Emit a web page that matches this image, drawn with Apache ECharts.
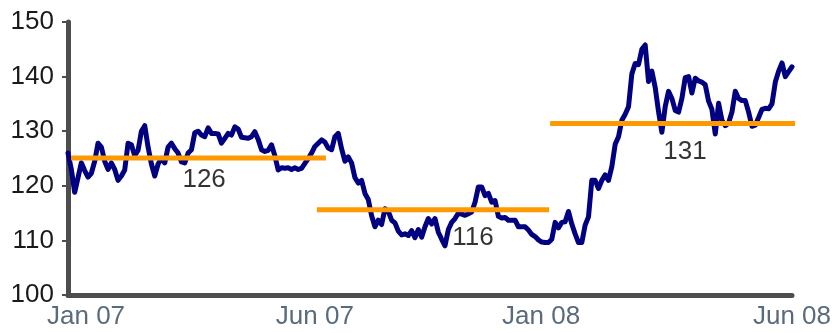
<!DOCTYPE html>
<html>
<head>
<meta charset="utf-8">
<script src="https://cdn.jsdelivr.net/npm/echarts@6/dist/echarts.min.js"></script>
<style>
html,body{margin:0;padding:0;background:#fff;}
#chart{width:836px;height:333px;}
</style>
</head>
<body>
<div id="chart"></div>
<script>
// Daily index level, Jan 07 - Jun 08 (one value per sample)
const indexValues = [
126.0,123.0,118.8,121.5,124.2,122.8,121.6,122.3,124.5,127.8,
127.1,124.5,123.0,124.2,123.0,121.0,121.8,122.9,127.8,127.5,
125.5,126.5,130.0,131.0,127.1,124.0,121.8,124.0,125.0,124.2,
127.1,127.8,126.8,126.0,124.4,124.2,126.0,126.6,129.7,130.0,
129.3,129.0,130.6,129.6,129.6,129.5,127.8,128.7,129.6,129.3,
130.8,130.4,128.9,128.8,128.7,129.0,129.9,128.5,126.6,126.3,
126.5,127.5,125.5,122.9,123.3,123.2,123.3,123.0,123.3,123.0,
123.2,124.1,125.0,126.0,127.2,127.8,128.4,128.0,126.9,126.6,
129.0,129.6,126.8,124.5,125.3,124.2,121.5,120.5,121.0,118.6,
117.5,114.5,112.5,113.7,112.9,115.8,115.3,113.7,113.2,111.7,
111.0,111.2,110.9,111.8,110.5,112.0,110.6,112.5,114.0,113.0,
114.0,111.5,110.2,109.0,112.0,113.3,114.0,115.0,114.8,114.6,
114.9,115.2,117.0,119.8,119.8,118.2,118.6,117.0,117.3,114.4,
114.1,114.2,113.7,113.7,113.7,112.5,112.5,112.5,111.9,111.1,
110.7,110.1,109.7,109.6,109.6,110.2,113.3,112.3,113.3,113.4,
115.3,113.0,111.2,109.6,109.6,112.8,114.3,121.0,121.0,119.5,
121.0,122.0,121.0,123.5,127.6,129.0,132.0,133.1,134.5,140.5,
142.4,142.2,145.0,145.8,139.1,141.0,138.0,133.6,129.8,134.5,
137.3,136.0,133.8,133.5,136.0,139.8,140.0,137.0,139.7,139.2,
139.0,138.5,135.5,134.0,129.5,135.1,132.0,131.0,131.5,133.5,
137.3,136.0,135.6,135.6,133.5,130.9,131.1,132.5,134.0,134.2,
134.1,135.0,139.0,141.0,142.5,140.0,140.9,141.8
];

// x-axis tick labels and the sample index where each sits
const xTickLabels = ['Jan 07', 'Jun 07', 'Jan 08', 'Jun 08'];
const xTickIndex  = [5.4, 74, 141.8, 217];

// y-axis
const yMin = 100, yMax = 150, yStep = 10;

// period averages (orange bars): start index, end index, level
const avgStart = [0.9, 74.6, 144.5];
const avgEnd   = [77.3, 144.2, 221.2];
const avgLevel = [125.1, 115.6, 131.4];
// average labels: text, and the (index, level) where each label is centred
const avgText  = ['126', '116', '131'];
const avgLabelAt = [40.8, 121.4, 184.9];
const avgLabelLevel = [121.1, 110.4, 126.2];

const FONT = "'Liberation Sans', Arial, sans-serif";

const chart = echarts.init(document.getElementById('chart'), null, {renderer: 'canvas'});

const series = [{
  type: 'line',
  data: indexValues.map((v, i) => [i, v]),
  showSymbol: false,
  symbol: 'none',
  lineStyle: {color: '#000080', width: 5, join: 'round', cap: 'round'},
  z: 3,
  animation: false
}];

avgLevel.forEach((lvl, k) => {
  series.push({
    type: 'line',
    data: [[avgStart[k], lvl], [avgEnd[k], lvl]],
    showSymbol: false,
    symbol: 'none',
    clip: false,
    lineStyle: {color: '#FF9900', width: 5, cap: 'butt'},
    z: 4,
    animation: false
  });
  series.push({
    type: 'scatter',
    data: [[avgLabelAt[k], avgLabelLevel[k]]],
    symbolSize: 0,
    clip: false,
    label: {
      show: true,
      position: 'inside',
      formatter: avgText[k],
      fontFamily: FONT,
      fontSize: 26,
      color: '#000'
    },
    z: 5,
    animation: false
  });
});

chart.setOption({
  animation: false,
  grid: {left: 68, right: 44, top: 22, bottom: 38, containLabel: false},
  xAxis: {
    type: 'value',
    min: 0,
    max: indexValues.length - 1,
    splitLine: {show: false},
    axisLine: {show: true, lineStyle: {color: '#4d4d4d', width: 5}},
    axisTick: {show: false},
    axisLabel: {
      customValues: xTickIndex,
      formatter: (v) => {
        const k = xTickIndex.indexOf(v);
        return k >= 0 ? xTickLabels[k] : '';
      },
      fontFamily: FONT,
      fontSize: 26,
      color: '#5a6b7b',
      margin: 9
    }
  },
  yAxis: {
    type: 'value',
    min: yMin,
    max: yMax,
    interval: yStep,
    splitLine: {show: false},
    axisLine: {show: true, onZero: false, lineStyle: {color: '#4d4d4d', width: 5}},
    axisTick: {show: true, length: 6, lineStyle: {color: '#4d4d4d', width: 2}},
    axisLabel: {
      fontFamily: FONT,
      fontSize: 26,
      color: '#1a1a1a',
      margin: 14
    }
  },
  series: series
});
</script>
</body>
</html>
